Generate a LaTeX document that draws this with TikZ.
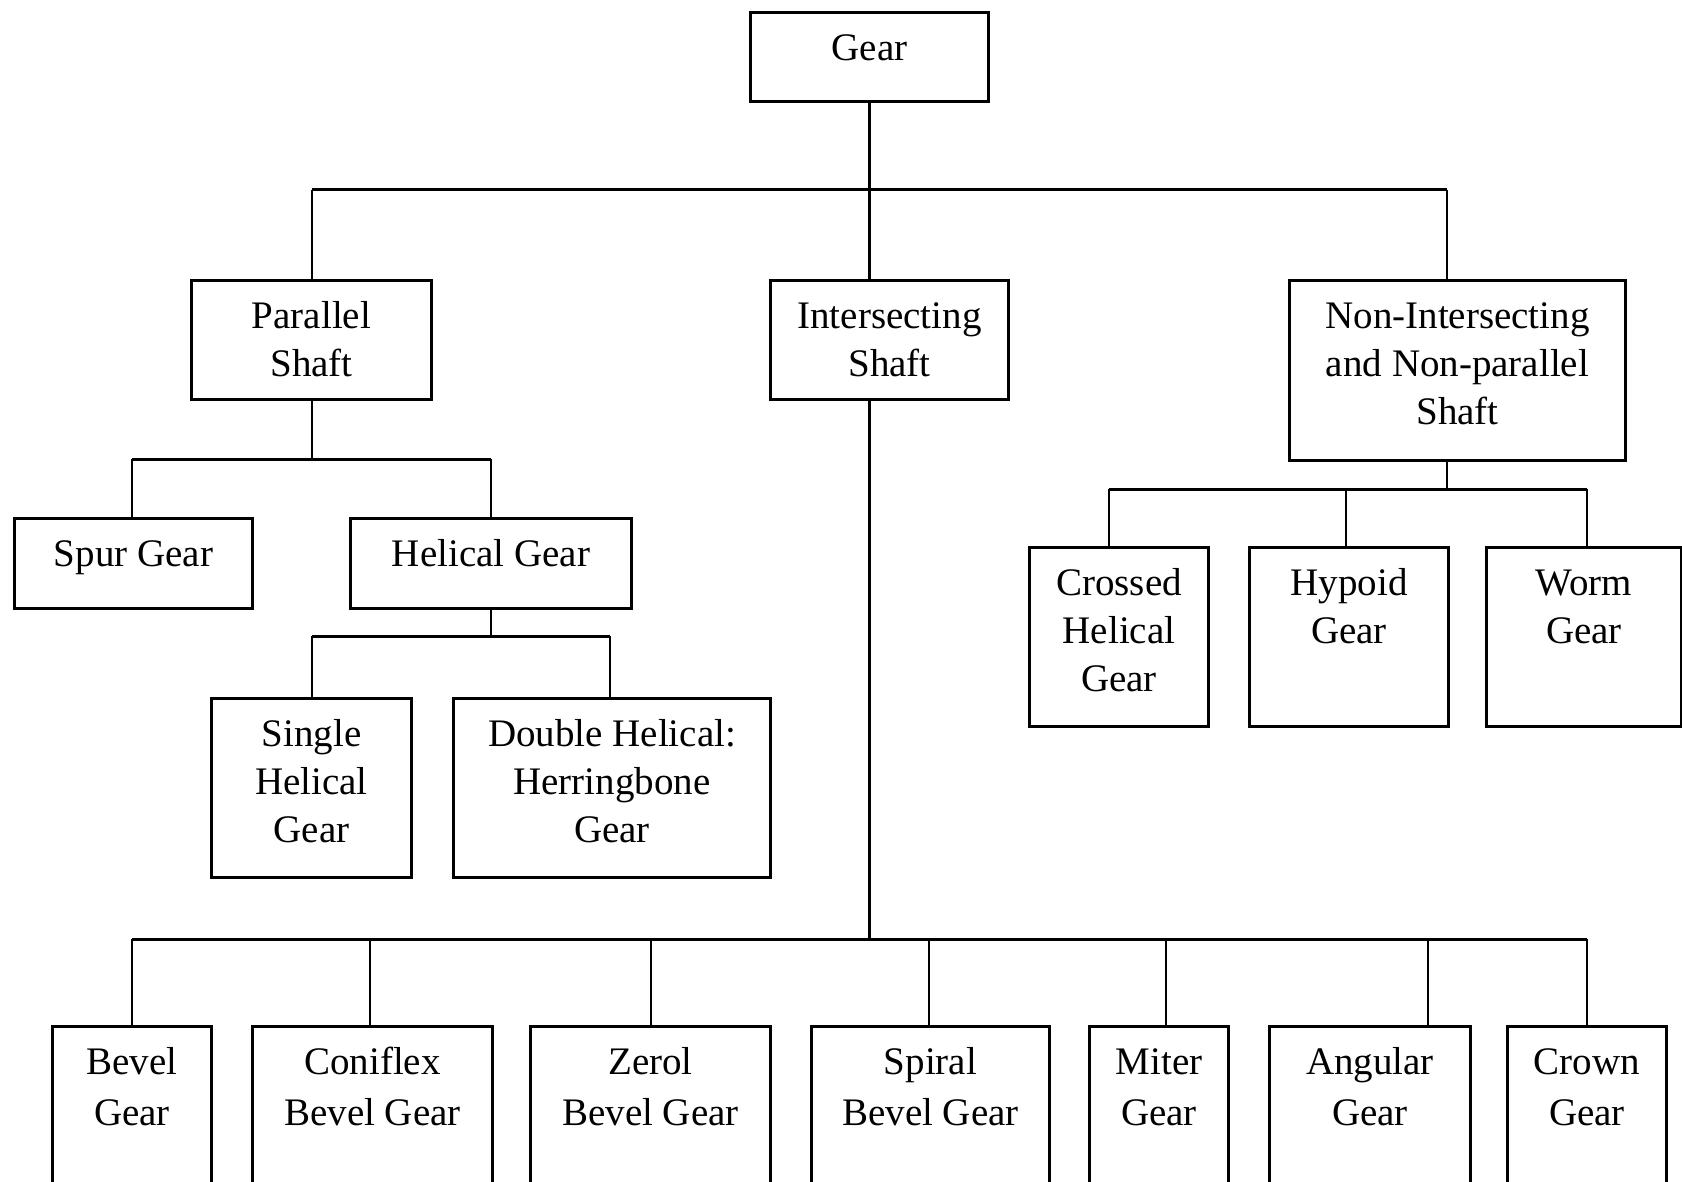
\documentclass[tikz,border=0pt]{standalone}
\usepackage{fontspec}
\setmainfont{Liberation Serif}
\usetikzlibrary{positioning,calc}

% text block of fixed size, first line near the top
\newcommand{\gtext}[3]{\parbox[c][#2][t]{#1}{\centering\rule{0pt}{24pt}#3}}

\begin{document}
\begin{tikzpicture}[x=0.5pt,y=-0.5pt,
    gbox/.style={draw,line width=1.5pt,inner sep=0pt,anchor=north west,
      font=\fontsize{19.5}{24}\selectfont},
    lowbox/.style={gbox,font=\fontsize{19.5}{25.5}\selectfont},
    link/.style={line width=1.2pt},
    bus/.style={line width=1.5pt}]
  \useasboundingbox (0,0) rectangle (1682,1182);
  \clip (0,0) rectangle (1682,1182);

  % Root
  \node[gbox] (gear) at (749,11) {\gtext{119pt}{44.5pt}{Gear}};

  % Shaft types
  \node[gbox] (par) at (190,279) {\gtext{120pt}{59.5pt}{Parallel\\Shaft}};
  \node[gbox] (inter) at (769,279) {\gtext{119pt}{59.5pt}{Intersecting\\Shaft}};
  \node[gbox] (non) at (1288,279) {\gtext{168pt}{90pt}{Non-Intersecting\\and Non-parallel\\Shaft}};

  % Parallel shaft gears
  \node[gbox] (spur) at (13,517) {\gtext{119pt}{45pt}{Spur Gear}};
  \node[gbox] (helical) at (349,517) {\gtext{140.5pt}{45pt}{Helical Gear}};
  \node[gbox] (single) at (210,697) {\gtext{100pt}{89.5pt}{Single\\Helical\\Gear}};
  \node[gbox] (double) at (452,697) {\gtext{158.5pt}{89.5pt}{Double Helical:\\Herringbone\\Gear}};

  % Non-intersecting shaft gears
  \node[gbox] (crossed) at (1028,546) {\gtext{89.5pt}{89.5pt}{Crossed\\Helical\\Gear}};
  \node[gbox] (hypoid) at (1248,546) {\gtext{99.5pt}{89.5pt}{Hypoid\\Gear}};
  \node[gbox] (worm) at (1485,546) {\gtext{97.5pt}{89.5pt}{Worm\\Gear}};

  % Intersecting shaft gears
  \node[lowbox] (bevel) at (51,1025) {\gtext{79.5pt}{90pt}{Bevel\\Gear}};
  \node[lowbox] (coniflex) at (251,1025) {\gtext{120pt}{90pt}{Coniflex\\Bevel Gear}};
  \node[lowbox] (zerol) at (529,1025) {\gtext{120pt}{90pt}{Zerol\\Bevel Gear}};
  \node[lowbox] (spiral) at (810,1025) {\gtext{119pt}{90pt}{Spiral\\Bevel Gear}};
  \node[lowbox] (miter) at (1088,1025) {\gtext{69.5pt}{90pt}{Miter\\Gear}};
  \node[lowbox] (angular) at (1268,1025) {\gtext{100.5pt}{90pt}{Angular\\Gear}};
  \node[lowbox] (crown) at (1506,1025) {\gtext{79.5pt}{90pt}{Crown\\Gear}};

  % Gear -> shaft types
  \coordinate (b1) at (312,190);
  \coordinate (b1r) at (1447,190);
  \draw[link] (gear.south) -- (gear.south |- b1);
  \draw[bus] (b1) -- (b1r);
  \draw[link] (b1) -- (b1 |- par.north);
  \draw[link] (gear.south |- b1) -- (gear.south |- inter.north);
  \draw[link] (b1r) -- (b1r |- non.north);

  % Parallel shaft -> spur, helical
  \coordinate (b2) at (132,459);
  \coordinate (b2r) at (491,459);
  \draw[link] (b1 |- par.south) -- (b1 |- b2);
  \draw[bus] (b2) -- (b2r);
  \draw[link] (b2) -- (b2 |- spur.north);
  \draw[link] (b2r) -- (b2r |- helical.north);

  % Helical -> single, double
  \coordinate (b3) at (312,636);
  \coordinate (b3r) at (610,636);
  \draw[link] (b2r |- helical.south) -- (b2r |- b3);
  \draw[bus] (b3) -- (b3r);
  \draw[link] (b3) -- (b3 |- single.north);
  \draw[link] (b3r) -- (b3r |- double.north);

  % Non-intersecting -> crossed, hypoid, worm
  \coordinate (b4) at (1109,489);
  \coordinate (b4m) at (1346,489);
  \coordinate (b4r) at (1587,489);
  \draw[link] (b1r |- non.south) -- (b1r |- b4);
  \draw[bus] (b4) -- (b4r);
  \draw[link] (b4) -- (b4 |- crossed.north);
  \draw[link] (b4m) -- (b4m |- hypoid.north);
  \draw[link] (b4r) -- (b4r |- worm.north);

  % Intersecting -> bevel family
  \coordinate (b5) at (132,939);
  \coordinate (b5r) at (1587,939);
  \draw[link] (gear.south |- inter.south) -- (gear.south |- b5);
  \draw[bus] (b5) -- (b5r);
  \foreach \x/\n in {132/bevel,370/coniflex,651/zerol,929/spiral,1166/miter,1428/angular,1587/crown} {
    \coordinate (v) at (\x,939);
    \draw[link] (v) -- (v |- \n.north);
  }
\end{tikzpicture}
\end{document}
